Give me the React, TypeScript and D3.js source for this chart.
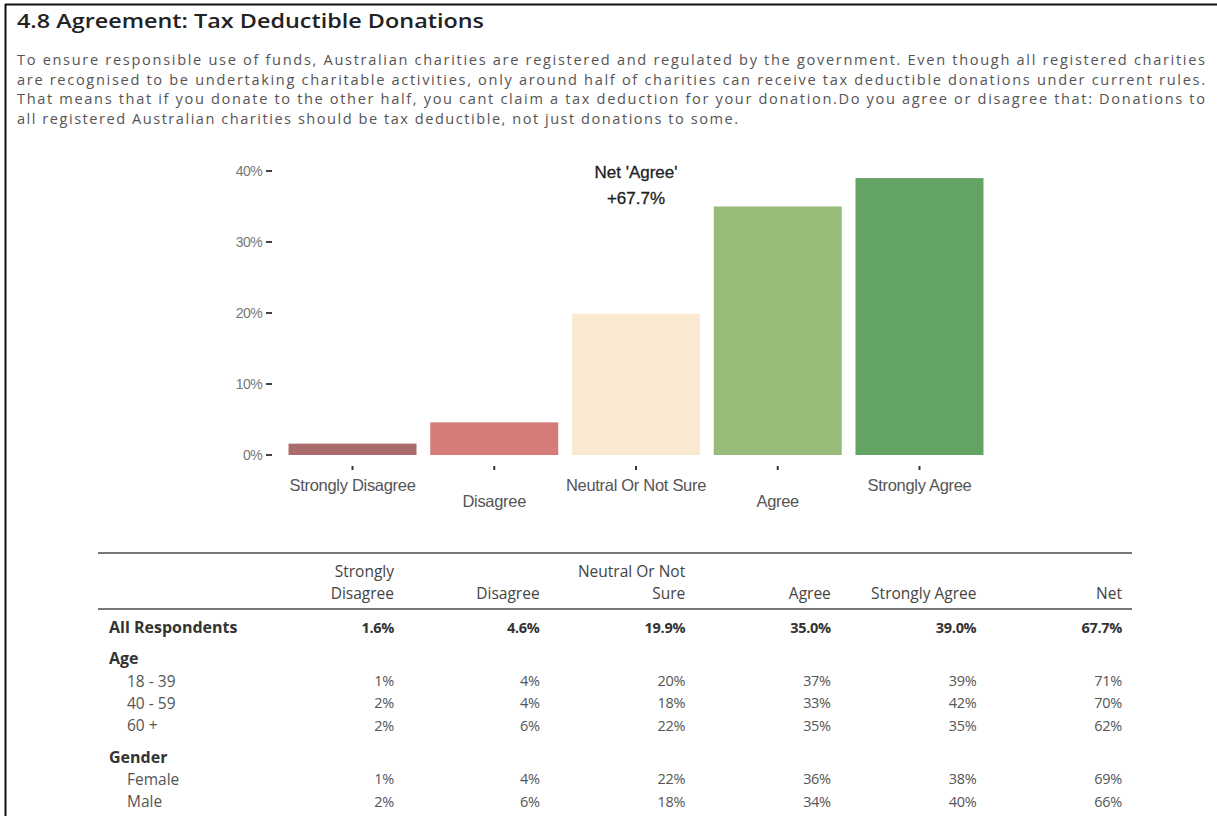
import React from "react";
import * as d3 from "d3";

const title = "4.8 Agreement:  Tax Deductible Donations";
const paragraph = [
  "To ensure responsible use of funds, Australian charities are registered and regulated by the government.  Even though all registered charities",
  "are recognised to be undertaking charitable activities, only around half of charities can receive tax deductible donations under current rules.",
  "That means that if you donate to the other half, you cant claim a tax deduction for your donation.Do you agree or disagree that: Donations to",
  "all registered Australian charities should be tax deductible, not just donations to some.",
];

const categories = ["Strongly Disagree", "Disagree", "Neutral Or Not Sure", "Agree", "Strongly Agree"];
const values = [1.6, 4.6, 19.9, 35.0, 39.0];
const barColors = ["#a96b6b", "#d57b78", "#f9e9d0", "#97bb78", "#63a363"];
const yTicks = [0, 10, 20, 30, 40];
const netLabel = "Net 'Agree'";
const netValue = "+67.7%";

const tableHeaders = [["Strongly", "Disagree"], ["Disagree"], ["Neutral Or Not", "Sure"], ["Agree"], ["Strongly Agree"], ["Net"]];
const allRespondents = ["1.6%", "4.6%", "19.9%", "35.0%", "39.0%", "67.7%"];
const groups = ["Age", "Gender"];
const ageRows = ["18 - 39", "40 - 59", "60 +"];
const ageValues = [
  ["1%", "4%", "20%", "37%", "39%", "71%"],
  ["2%", "4%", "18%", "33%", "42%", "70%"],
  ["2%", "6%", "22%", "35%", "35%", "62%"],
];
const genderRows = ["Female", "Male"];
const genderValues = [
  ["1%", "4%", "22%", "36%", "38%", "69%"],
  ["2%", "6%", "18%", "34%", "40%", "66%"],
];

const W = 1217;
const H = 816;
const bodyFont = "'Open Sans', Lato, sans-serif";
const chartFont = "'Liberation Sans', Arial, sans-serif";

export default function App() {
  const y = d3.scaleLinear().domain([0, 40]).range([455, 171]);
  const x = d3.scaleBand<string>().domain(categories).range([282, 990]).paddingInner(0.097).paddingOuter(0.046);
  const col = d3.scalePoint<number>().domain(d3.range(tableHeaders.length)).range([394, 1122]);

  const lineH = 22.3;
  const rowsLayout: { label: string; vals?: string[]; bold?: boolean; indent?: boolean; y: number }[] = [];
  let cy = 627;
  rowsLayout.push({ label: "All Respondents", vals: allRespondents, bold: true, y: cy });
  const groupData = [
    { name: groups[0], labels: ageRows, vals: ageValues },
    { name: groups[1], labels: genderRows, vals: genderValues },
  ];
  groupData.forEach((g) => {
    cy += lineH + 9;
    rowsLayout.push({ label: g.name, bold: true, y: cy });
    g.labels.forEach((l, i) => {
      cy += lineH;
      rowsLayout.push({ label: l, vals: g.vals[i], indent: true, y: cy });
    });
  });

  const paraWidths = [1188, 1188, 1188, 721];
  const annX = (x("Neutral Or Not Sure") as number) + x.bandwidth() / 2;

  return (
    <svg width={W} height={H} style={{ position: "absolute", left: 0, top: 0, background: "#fff" }}>
      <rect x={0} y={0} width={W} height={H} fill="#fff" />
      <line x1={5} x2={W} y1={4.5} y2={4.5} stroke="#111" strokeWidth={2} />
      <line x1={5.5} x2={5.5} y1={4} y2={H} stroke="#111" strokeWidth={2} />

      <text x={17} y={28} fontFamily={bodyFont} fontSize={20.5} fontWeight={600} fill="#222" textLength={467} lengthAdjust="spacingAndGlyphs">
        {title}
      </text>
      {paragraph.map((p, i) => (
        <text
          key={i}
          x={17}
          y={59 + i * 19.5}
          dominantBaseline="central"
          fontFamily={bodyFont}
          fontSize={14.6}
          fill="#555"
          textLength={paraWidths[i]}
          lengthAdjust="spacing"
        >
          {p}
        </text>
      ))}

      {yTicks.map((t) => (
        <g key={t}>
          <text x={262} y={y(t)} dominantBaseline="central" textAnchor="end" fontFamily={chartFont} fontSize={14} fill="#777" letterSpacing={-0.6}>
            {t}%
          </text>
          <line x1={266} x2={272} y1={y(t)} y2={y(t)} stroke="#444" strokeWidth={2} />
        </g>
      ))}

      {categories.map((c, i) => (
        <rect key={c} x={x(c)} y={y(values[i])} width={x.bandwidth()} height={y(0) - y(values[i])} fill={barColors[i]} />
      ))}

      {categories.map((c, i) => {
        const cx = (x(c) as number) + x.bandwidth() / 2;
        return (
          <g key={c}>
            <line x1={cx} x2={cx} y1={466} y2={470} stroke="#333" strokeWidth={2} />
            <text x={cx} y={i % 2 === 0 ? 485 : 501} dominantBaseline="central" textAnchor="middle" fontFamily={chartFont} fontSize={16.5} fill="#555" letterSpacing={-0.3}>
              {c}
            </text>
          </g>
        );
      })}

      <text x={annX} y={172} dominantBaseline="central" textAnchor="middle" fontFamily={chartFont} fontSize={17} fill="#222" stroke="#222" strokeWidth={0.3}>
        {netLabel}
      </text>
      <text x={annX} y={198} dominantBaseline="central" textAnchor="middle" fontFamily={chartFont} fontSize={17} fill="#222" stroke="#222" strokeWidth={0.3}>
        {netValue}
      </text>

      <line x1={98} x2={1132} y1={553} y2={553} stroke="#777" strokeWidth={2} />
      <line x1={98} x2={1132} y1={609} y2={609} stroke="#777" strokeWidth={2} />
      {tableHeaders.map((h, i) => (
        <text key={i} x={col(i)} textAnchor="end" fontFamily={bodyFont} fontSize={15.5} fill="#444">
          {h.map((line, j) => (
            <tspan key={j} x={col(i)} y={h.length === 2 ? 577 + j * 22 : 599}>
              {line}
            </tspan>
          ))}
        </text>
      ))}
      {rowsLayout.map((r, i) => (
        <g key={i}>
          <text x={r.indent ? 127 : 109} y={r.y} dominantBaseline="central" fontFamily={bodyFont} fontSize={r.bold ? 16 : 15.5} fontWeight={r.bold ? 700 : 400} fill={r.bold ? "#333" : "#555"}>
            {r.label}
          </text>
          {r.vals &&
            r.vals.map((v, j) => (
              <text key={j} x={col(j)} y={r.y} dominantBaseline="central" textAnchor="end" fontFamily={bodyFont} fontSize={14.5} fontWeight={r.bold ? 700 : 400} fill={r.bold ? "#333" : "#555"} letterSpacing={-0.3}>
                {v}
              </text>
            ))}
        </g>
      ))}
    </svg>
  );
}
